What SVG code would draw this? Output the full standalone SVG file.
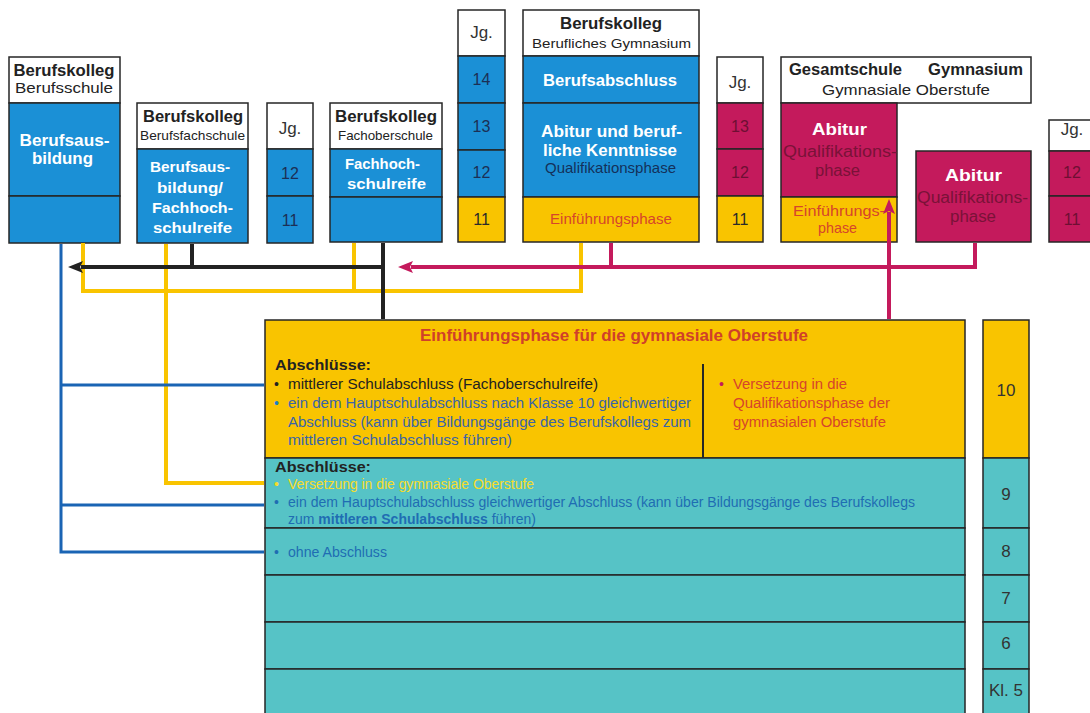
<svg xmlns="http://www.w3.org/2000/svg" width="1090" height="713" viewBox="0 0 1090 713">
<defs>
<style>
text{font-family:"Liberation Sans",Arial,sans-serif;}
.bx{stroke:#262626;stroke-width:1.5;}
.w{fill:#ffffff;}
.bl{fill:#1b90d6;}
.mg{fill:#c41a5c;}
.ye{fill:#f9c400;}
.te{fill:#56c3c6;}
.hb{font-size:16px;font-weight:bold;fill:#222;text-anchor:middle;}
.hr{font-size:15px;fill:#222;text-anchor:middle;}
.hs{font-size:13.5px;fill:#222;text-anchor:middle;}
.wb{font-size:15px;font-weight:bold;fill:#fff;text-anchor:middle;}
.wl{font-size:16.5px;font-weight:bold;fill:#fff;text-anchor:middle;}
.jg{font-size:17px;fill:#333;text-anchor:middle;}
.nb{font-size:16px;fill:#1c2f55;text-anchor:middle;}
.nm{font-size:16px;fill:#6e0f33;text-anchor:middle;}
.ny{font-size:16px;fill:#2a2a2a;text-anchor:middle;}
.nt{font-size:17px;fill:#333;text-anchor:middle;}
.qb{font-size:15px;fill:#14305a;text-anchor:middle;}
.qm{font-size:16px;fill:#7a1238;text-anchor:middle;}
.ef{font-size:15px;fill:#d6452b;text-anchor:middle;}
.t{font-size:14px;}
.abs{font-size:15px;font-weight:bold;fill:#222;}
.c{fill:none;stroke-linejoin:miter;}
.ck{stroke:#222;stroke-width:4;}
.cy{stroke:#f9c400;stroke-width:4;}
.cb{stroke:#1a64b4;stroke-width:3;}
.cm{stroke:#c41a5c;stroke-width:4;}
</style>
<marker id="ak" markerUnits="userSpaceOnUse" markerWidth="16" markerHeight="12" refX="2" refY="6" orient="auto"><path d="M0,0 L15,6 L0,12 L3,6 z" fill="#222"/></marker>
<marker id="am" markerUnits="userSpaceOnUse" markerWidth="16" markerHeight="12" refX="2" refY="6" orient="auto"><path d="M0,0 L15,6 L0,12 L3,6 z" fill="#c41a5c"/></marker>
</defs>
<rect width="1090" height="713" fill="#ffffff"/>

<g id="berufsschule">
<rect class="bx w" x="9" y="57" width="111" height="46"/>
<rect class="bx bl" x="9" y="103" width="111" height="93"/>
<rect class="bx bl" x="9" y="196" width="111" height="47"/>
<text class="hb" x="64" y="76" textLength="101" lengthAdjust="spacingAndGlyphs">Berufskolleg</text>
<text class="hr" x="64" y="93" textLength="98" lengthAdjust="spacingAndGlyphs">Berufsschule</text>
<text class="wl" x="64.5" y="146" textLength="90" lengthAdjust="spacingAndGlyphs">Berufsaus-</text>
<text class="wl" x="62.5" y="164" textLength="61" lengthAdjust="spacingAndGlyphs">bildung</text>
</g>

<g id="berufsfachschule">
<rect class="bx w" x="137" y="103" width="111" height="46"/>
<rect class="bx bl" x="137" y="149" width="111" height="94"/>
<text class="hb" x="193" y="122" textLength="100" lengthAdjust="spacingAndGlyphs">Berufskolleg</text>
<text class="hs" x="192.5" y="140" textLength="105" lengthAdjust="spacingAndGlyphs">Berufsfachschule</text>
<text class="wb" x="190" y="172" textLength="80" lengthAdjust="spacingAndGlyphs">Berufsaus-</text>
<text class="wb" x="190" y="193" textLength="66" lengthAdjust="spacingAndGlyphs">bildung/</text>
<text class="wb" x="192.5" y="213" textLength="81" lengthAdjust="spacingAndGlyphs">Fachhoch-</text>
<text class="wb" x="192.5" y="233" textLength="79" lengthAdjust="spacingAndGlyphs">schulreife</text>
</g>

<g id="jg1">
<rect class="bx w" x="267" y="103" width="46" height="46"/>
<rect class="bx bl" x="267" y="149" width="46" height="47"/>
<rect class="bx bl" x="267" y="196" width="46" height="47"/>
<text class="jg" x="290" y="134">Jg.</text>
<text class="nb" x="290" y="179">12</text>
<text class="nb" x="290" y="226">11</text>
</g>

<g id="fachoberschule">
<rect class="bx w" x="330" y="103" width="112" height="46"/>
<rect class="bx bl" x="330" y="149" width="112" height="48"/>
<rect class="bx bl" x="330" y="197" width="112" height="45"/>
<text class="hb" x="386" y="122" textLength="102" lengthAdjust="spacingAndGlyphs">Berufskolleg</text>
<text class="hs" x="385.5" y="140" textLength="95" lengthAdjust="spacingAndGlyphs">Fachoberschule</text>
<text class="wb" x="382.5" y="169" textLength="75" lengthAdjust="spacingAndGlyphs">Fachhoch-</text>
<text class="wb" x="386.5" y="189" textLength="79" lengthAdjust="spacingAndGlyphs">schulreife</text>
</g>

<g id="jg2">
<rect class="bx w" x="458" y="10" width="47" height="46"/>
<rect class="bx bl" x="458" y="56" width="47" height="47"/>
<rect class="bx bl" x="458" y="103" width="47" height="47"/>
<rect class="bx bl" x="458" y="150" width="47" height="47"/>
<rect class="bx ye" x="458" y="197" width="47" height="45"/>
<text class="jg" x="481.5" y="38">Jg.</text>
<text class="nb" x="481.5" y="85">14</text>
<text class="nb" x="481.5" y="132">13</text>
<text class="nb" x="481.5" y="178">12</text>
<text class="ny" x="481.5" y="225">11</text>
</g>

<g id="berufliches-gymnasium">
<rect class="bx w" x="523" y="10" width="176" height="46"/>
<rect class="bx bl" x="523" y="56" width="176" height="47"/>
<rect class="bx bl" x="523" y="103" width="176" height="94"/>
<rect class="bx ye" x="523" y="197" width="176" height="45"/>
<text class="hb" x="611" y="29" textLength="102" lengthAdjust="spacingAndGlyphs">Berufskolleg</text>
<text class="hs" x="611.5" y="48" textLength="159" lengthAdjust="spacingAndGlyphs">Berufliches Gymnasium</text>
<text class="wl" x="610" y="86" textLength="134" lengthAdjust="spacingAndGlyphs">Berufsabschluss</text>
<text class="wl" x="611.5" y="137" textLength="141" lengthAdjust="spacingAndGlyphs">Abitur und beruf-</text>
<text class="wl" x="610" y="156" textLength="134" lengthAdjust="spacingAndGlyphs">liche Kenntnisse</text>
<text class="qb" x="610.5" y="173" textLength="131" lengthAdjust="spacingAndGlyphs">Qualifikationsphase</text>
<text class="ef" x="611" y="224" textLength="122" lengthAdjust="spacingAndGlyphs">Einführungsphase</text>
</g>

<g id="jg3">
<rect class="bx w" x="717" y="57" width="46" height="46"/>
<rect class="bx mg" x="717" y="103" width="46" height="46"/>
<rect class="bx mg" x="717" y="149" width="46" height="47"/>
<rect class="bx ye" x="717" y="196" width="46" height="46"/>
<text class="jg" x="740" y="88">Jg.</text>
<text class="nm" x="740" y="132">13</text>
<text class="nm" x="740" y="178">12</text>
<text class="ny" x="740" y="225">11</text>
</g>

<g id="gymnasiale-oberstufe">
<rect class="bx w" x="781" y="57" width="250" height="46"/>
<text class="hb" x="845.5" y="75" textLength="113" lengthAdjust="spacingAndGlyphs">Gesamtschule</text>
<text class="hb" x="975.5" y="75" textLength="95" lengthAdjust="spacingAndGlyphs">Gymnasium</text>
<text class="hr" x="906" y="95" textLength="168" lengthAdjust="spacingAndGlyphs">Gymnasiale Oberstufe</text>
</g>

<g id="gesamtschule-abitur">
<rect class="bx mg" x="781" y="103" width="116" height="94"/>
<rect class="bx ye" x="781" y="197" width="116" height="45"/>
<text class="wl" x="839.5" y="135" font-size="18" textLength="55" lengthAdjust="spacingAndGlyphs">Abitur</text>
<text class="qm" x="840" y="157" textLength="114" lengthAdjust="spacingAndGlyphs">Qualifikations-</text>
<text class="qm" x="837.5" y="176" textLength="45" lengthAdjust="spacingAndGlyphs">phase</text>
<text class="ef" x="839" y="216" textLength="92" lengthAdjust="spacingAndGlyphs">Einführungs-</text>
<text class="ef" x="837.5" y="233" textLength="39" lengthAdjust="spacingAndGlyphs">phase</text>
</g>

<g id="gymnasium-abitur">
<rect class="bx mg" x="916" y="151" width="115" height="91"/>
<text class="wl" x="973.5" y="181" font-size="18" textLength="57" lengthAdjust="spacingAndGlyphs">Abitur</text>
<text class="qm" x="972.5" y="203" textLength="111" lengthAdjust="spacingAndGlyphs">Qualifikations-</text>
<text class="qm" x="973" y="222" textLength="46" lengthAdjust="spacingAndGlyphs">phase</text>
</g>

<g id="jg4">
<rect class="bx w" x="1049" y="120" width="46" height="31"/>
<rect class="bx mg" x="1049" y="151" width="46" height="45"/>
<rect class="bx mg" x="1049" y="196" width="46" height="46"/>
<text class="jg" x="1072" y="135">Jg.</text>
<text class="nm" x="1072" y="178">12</text>
<text class="nm" x="1072" y="225">11</text>
</g>

<g id="einfuehrungsphase">
<rect class="bx ye" x="265" y="320" width="700" height="138"/>
<line x1="703" y1="364" x2="703" y2="458" stroke="#262626" stroke-width="2"/>
<text x="614" y="341" font-size="17" font-weight="bold" fill="#d0402a" text-anchor="middle" textLength="388" lengthAdjust="spacingAndGlyphs">Einführungsphase für die gymnasiale Oberstufe</text>
<text class="abs" x="275" y="370" textLength="96" lengthAdjust="spacingAndGlyphs">Abschlüsse:</text>
<text class="t" x="274" y="389" fill="#222">•</text>
<text class="t" x="288" y="389" fill="#222" textLength="310" lengthAdjust="spacingAndGlyphs">mittlerer Schulabschluss (Fachoberschulreife)</text>
<text class="t" x="274" y="408" fill="#1b7fc8">•</text>
<text class="t" x="288" y="408" fill="#3a64a8" textLength="403" lengthAdjust="spacingAndGlyphs">ein dem Hauptschulabschluss nach Klasse 10 gleichwertiger</text>
<text class="t" x="288" y="427" fill="#3a64a8" textLength="403" lengthAdjust="spacingAndGlyphs">Abschluss (kann über Bildungsgänge des Berufskollegs zum</text>
<text class="t" x="288" y="445" fill="#3a64a8" textLength="224" lengthAdjust="spacingAndGlyphs">mittleren Schulabschluss führen)</text>
<text class="t" x="719" y="389" fill="#c41a5c">•</text>
<text class="t" x="733" y="389" fill="#d6452b" textLength="114" lengthAdjust="spacingAndGlyphs">Versetzung in die</text>
<text class="t" x="733" y="408" fill="#d6452b" textLength="157" lengthAdjust="spacingAndGlyphs">Qualifikationsphase der</text>
<text class="t" x="733" y="427" fill="#d6452b" textLength="153" lengthAdjust="spacingAndGlyphs">gymnasialen Oberstufe</text>
</g>

<g id="sekundarstufe">
<rect class="bx te" x="265" y="458" width="700" height="70"/>
<rect class="bx te" x="265" y="528" width="700" height="47"/>
<rect class="bx te" x="265" y="575" width="700" height="47"/>
<rect class="bx te" x="265" y="622" width="700" height="47"/>
<rect class="bx te" x="265" y="669" width="700" height="50"/>
<text class="abs" x="275" y="472" textLength="96" lengthAdjust="spacingAndGlyphs">Abschlüsse:</text>
<text class="t" x="274" y="489" fill="#f7dc2a">•</text>
<text class="t" x="288" y="489" fill="#f7dc2a" textLength="246" lengthAdjust="spacingAndGlyphs">Versetzung in die gymnasiale Oberstufe</text>
<text class="t" x="274" y="507" fill="#1f6db3">•</text>
<text class="t" x="288" y="507" fill="#1f6db3" textLength="627" lengthAdjust="spacingAndGlyphs">ein dem Hauptschulabschluss gleichwertiger Abschluss (kann über Bildungsgänge des Berufskollegs</text>
<text class="t" x="288" y="524" fill="#1f6db3" textLength="248" lengthAdjust="spacingAndGlyphs">zum <tspan font-weight="bold">mittleren Schulabschluss</tspan> führen)</text>
<text class="t" x="274" y="557" fill="#1f6db3">•</text>
<text class="t" x="288" y="557" fill="#1f6db3" textLength="99" lengthAdjust="spacingAndGlyphs">ohne Abschluss</text>
</g>

<g id="klassen">
<rect class="bx ye" x="983" y="320" width="46" height="138"/>
<rect class="bx te" x="983" y="458" width="46" height="70"/>
<rect class="bx te" x="983" y="528" width="46" height="47"/>
<rect class="bx te" x="983" y="575" width="46" height="47"/>
<rect class="bx te" x="983" y="622" width="46" height="47"/>
<rect class="bx te" x="983" y="669" width="46" height="50"/>
<text class="nt" x="1006" y="396">10</text>
<text class="nt" x="1006" y="500">9</text>
<text class="nt" x="1006" y="557">8</text>
<text class="nt" x="1006" y="604">7</text>
<text class="nt" x="1006" y="649">6</text>
<text class="nt" x="1006" y="696">Kl. 5</text>
</g>

<g id="connectors">
<path class="c cy" d="M83,243 V291 H581 V243"/>
<path class="c cy" d="M354,243 V291"/>
<path class="c cy" d="M166,244 V483 H264"/>
<path class="c cb" d="M61,244 V552 H264"/>
<path class="c cb" d="M61,385 H264"/>
<path class="c cb" d="M61,505 H264"/>
<path class="c ck" d="M192,244 V267"/>
<path class="c ck" d="M383,243 V319"/>
<path class="c ck" d="M383,267 H81" marker-end="url(#ak)"/>
<path class="c cm" d="M611,243 V267"/>
<path class="c cm" d="M975,243 V267 H411" marker-end="url(#am)"/>
<path class="c cm" d="M889,319 V212" marker-end="url(#am)"/>
</g>
</svg>
